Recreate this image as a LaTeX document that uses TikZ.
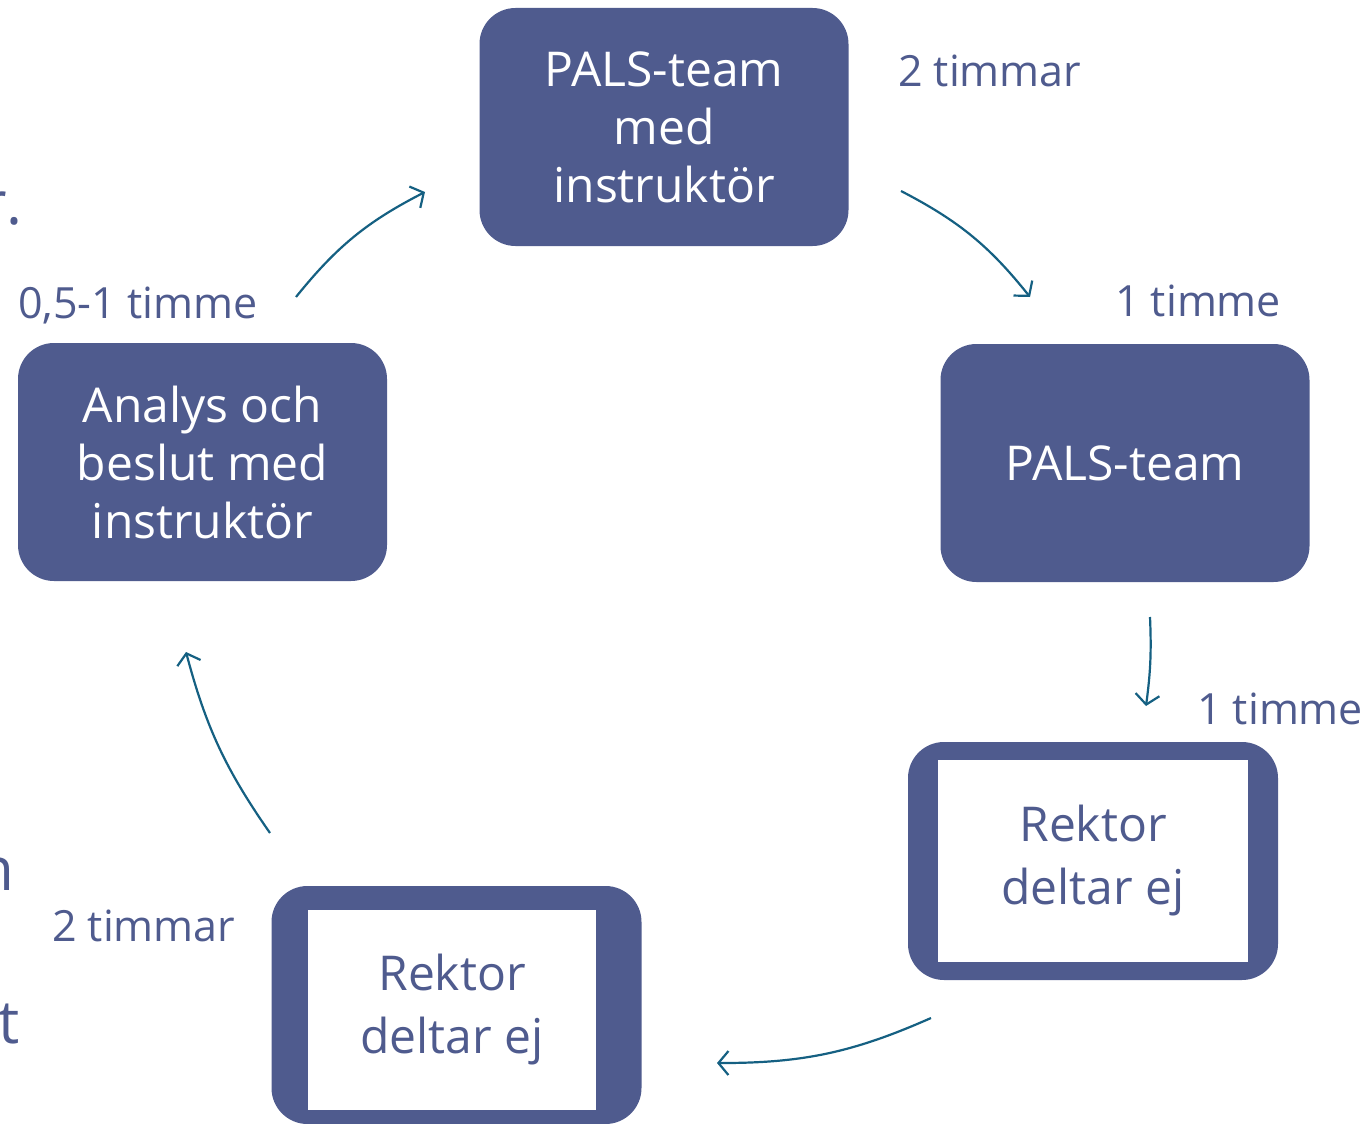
\documentclass[tikz,border=0pt]{standalone}
\usepackage{fontspec}
\setmainfont{Open Sans}
\usetikzlibrary{arrows.meta}
\definecolor{boxc}{RGB}{79,91,142}
\definecolor{arrc}{RGB}{21,96,130}
\begin{document}
\begin{tikzpicture}[x=1pt,y=-1pt,
  solidbox/.style={fill=boxc, rounded corners=36pt, minimum width=369pt, minimum height=238pt,
    text=white, align=center, font=\fontsize{48}{58}\selectfont, inner sep=0pt},
  outerbox/.style={fill=boxc, rounded corners=36pt, minimum width=370pt, minimum height=238pt, inner sep=0pt},
  innerbox/.style={fill=white, text=boxc, align=center, font=\fontsize{48}{63}\selectfont, inner sep=0pt},
  lbl/.style={text=boxc, font=\fontsize{43}{50}\selectfont, anchor=base west, inner sep=0pt},
  frag/.style={text=boxc, font=\fontsize{60}{70}\selectfont, anchor=base east, inner sep=0pt},
  flow/.style={draw=arrc, line width=2.2pt, -{Straight Barb[length=10pt,width=24pt,line width=2.2pt]}}
]
\useasboundingbox (0,0) rectangle (1369,1124);

% boxes
\node[solidbox] (top) at (664,127) {PALS-team\\med\\instruktör};
\node[solidbox] (right) at (1125,463) {PALS-team};
\node[solidbox] (left) at (202.5,462) {Analys och\\beslut med\\instruktör};
\node[outerbox] (br) at (1093,861) {};
\node[innerbox, minimum width=310pt, minimum height=202pt] (brin) at (1093,861) {Rektor\\deltar ej};
\node[outerbox] (bl) at (456.5,1005) {};
\node[innerbox, minimum width=288pt, minimum height=200pt] (blin) at (452,1010) {Rektor\\deltar ej};

% labels
\node[lbl] (l1) at (898,87) {2 timmar};
\node[lbl] (l2) at (1115,316) {1 timme};
\node[lbl] (l3) at (1197,724) {1 timme};
\node[lbl] (l4) at (52,941) {2 timmar};
\node[lbl] (l5) at (18,318) {0,5-1 timme};

% cut-off text fragments at the left edge
\node[frag] (f1) at (23,224) {r.};
\node[frag] (f2) at (15,890) {n};
\node[frag] (f3) at (20,1043) {t};

% arrow end points
\coordinate (a1s) at (296,297);
\coordinate (a1e) at (425,192);
\coordinate (a2s) at (901,191);
\coordinate (a2e) at (1030,297);
\coordinate (a3s) at (1150,617);
\coordinate (a3e) at (1146,706);
\coordinate (a4s) at (931,1018);
\coordinate (a4e) at (717,1063);
\coordinate (a5s) at (270,833);
\coordinate (a5e) at (186,652);

\draw[flow] (a1s) to[bend left=12] (a1e);
\draw[flow] (a2s) to[bend left=12] (a2e);
\draw[flow] (a3s) to[bend left=5] (a3e);
\draw[flow] (a4s) to[bend left=12] (a4e);
\draw[flow] (a5s) to[bend left=10] (a5e);
\end{tikzpicture}
\end{document}
